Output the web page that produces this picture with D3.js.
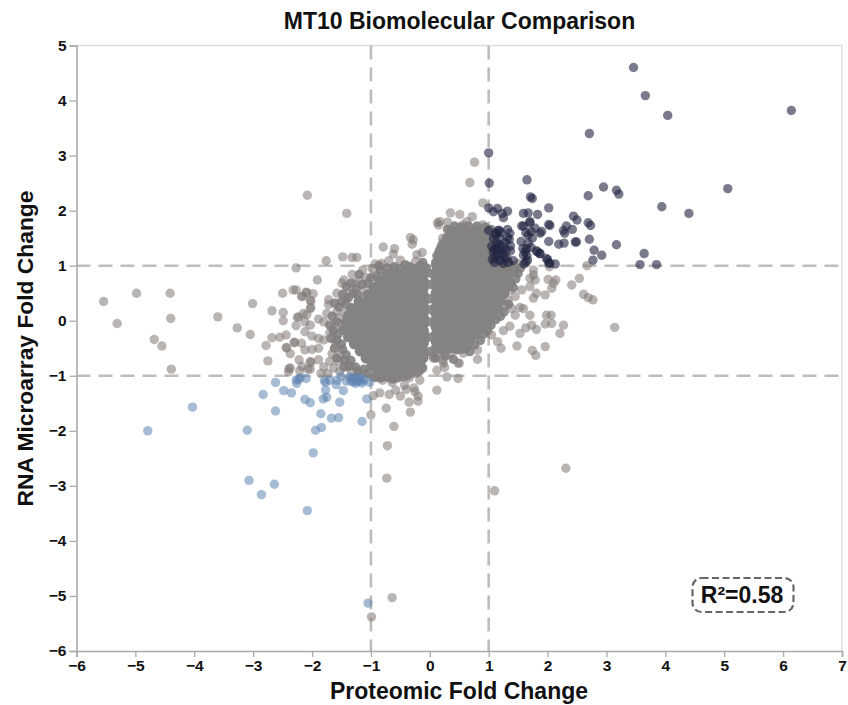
<!DOCTYPE html>
<html><head><meta charset="utf-8">
<script src="https://cdn.jsdelivr.net/npm/d3@7"></script>
<style>html,body{margin:0;padding:0;background:#fff}svg{display:block}text{font-family:"Liberation Sans",Arial,sans-serif;font-weight:700;fill:#111}</style>
</head><body><svg id="c" width="848" height="705"></svg>
<script>
const titleText = "MT10 Biomolecular Comparison";
const xTitle = "Proteomic Fold Change";
const yTitle = "RNA Microarray Fold Change";
const noteText = "R²=0.58";
const xDomain = [-6, 7];
const yDomain = [-6, 5];
const xTicks = [-6,-5,-4,-3,-2,-1,0,1,2,3,4,5,6,7];
const yTicks = [-6,-5,-4,-3,-2,-1,0,1,2,3,4,5];
const cutoffs = [-1, 1];

const upBoth = [[3.46,4.6],[3.66,4.09],[4.04,3.73],[6.14,3.82],[2.71,3.4],[1,3.05],[1.01,2.5],[1.65,2.56],[1.71,2.25],[1.74,2.22],[2.95,2.43],[3.17,2.37],[3.21,2.3],[2.69,2.27],[5.06,2.4],[3.94,2.07],[4.4,1.95],[1,2.05],[1.08,1.98],[1.15,2.04],[1.23,1.95],[1.32,1.99],[1.25,1.87],[1.59,1.95],[1.67,1.96],[1.83,1.93],[2.02,2.05],[1.7,1.8],[1.59,1.72],[2.02,1.75],[2.04,1.73],[2.44,1.9],[2.5,1.83],[2.69,1.78],[2.73,1.73],[2.32,1.72],[2.42,1.66],[2.27,1.64],[2.29,1.59],[2.71,1.48],[2.47,1.43],[2.49,1.43],[2.02,1.44],[2.19,1.39],[2.28,1.41],[3.17,1.38],[2.79,1.28],[2.92,1.19],[3.64,1.22],[2.77,1.1],[3.57,1.02],[3.85,1.02],[2.13,1.03],[2.02,1.05],[1.98,1.13],[1.87,1.22],[1.81,1.27],[1,1.64],[1.12,1.59],[1.18,1.64],[1.32,1.66],[1.36,1.59],[1.14,1.41],[1.19,1.38],[1.08,1.25],[1.22,1.28],[1.37,1.27],[1.11,1.16],[1.19,1.09],[1.28,1.13],[1.42,1.09],[1.32,1.51],[1.35,1.48],[1.19,1.5],[1.62,1.25],[1.59,1.19],[1.63,1.07],[1.66,1.1],[1.67,1.41],[1.67,1.56],[1.63,1.6],[1.56,1.72],[1.7,1.78],[1.79,1.68],[1.87,1.59],[1.83,1.25],[1.87,1.22],[2,1.11],[2.04,1.04],[1.55,1.44],[1.13,1.56],[1.05,1.35],[1.25,1.19],[1.3,1.28],[1.16,1.64],[1.64,1.31],[1.1,1.06],[1.16,1.2],[1.25,1.04],[1.21,1.6],[1.6,1.03],[1.9,1.62],[1.72,1.62],[1.14,1.32],[1.28,1.42],[1.06,1.12],[1.33,1.06],[1.1,1.3],[1.25,1.35],[1.08,1.5],[1.37,1.36],[1.65,1.18],[1.58,1.31],[1.74,1.5],[1.72,1.33]];

const downBoth = [[-4.79,-2],[-4.03,-1.57],[-3.1,-1.99],[-2.62,-1.12],[-2.83,-1.34],[-2.48,-1.27],[-2.35,-1.31],[-2.62,-1.64],[-3.07,-2.9],[-2.64,-2.97],[-2.86,-3.16],[-2.08,-3.45],[-1.98,-2.4],[-1.94,-1.99],[-1.84,-1.94],[-1.67,-1.77],[-1.55,-1.76],[-1.15,-1.83],[-1.85,-1.69],[-2.12,-1.43],[-2.03,-1.49],[-1.81,-1.42],[-1.75,-1.39],[-1.53,-1.48],[-1.07,-1.42],[-1.47,-1.27],[-1.77,-1.26],[-1.77,-1.12],[-1.79,-1.09],[-1.59,-1.16],[-1.58,-1.08],[-2.26,-1.14],[-2.27,-1.08],[-2.2,-1.04],[-2.1,-1.05],[-1.51,-1.01],[-1.36,-1.02],[-1.3,-1.11],[-1.24,-1.1],[-1.18,-1.1],[-1.15,-1.13],[-1.42,-1.1],[-1.02,-1.12],[-1.33,-1.05],[-1.28,-1.04],[-1.22,-1.03],[-1.16,-1.05],[-1.34,-1.1],[-1.26,-1.14],[-1.12,-1.08],[-1.05,-5.13],[-2.23,-1.06],[-1.7,-1.08]];

const greyOuter = [[-2.08,2.28],[-1.41,1.95],[-5.54,.35],[-4.98,.5],[-4.41,.5],[-5.31,-.05],[-4.4,.04],[-4.68,-.34],[-4.55,-.46],[-4.39,-.88],[-3.6,.07],[-3.01,.31],[-3.27,-.13],[-3.05,-.25],[-2.68,.18],[-2.5,.5],[-2.49,.15],[-2.49,0],[-2.32,.56],[-2.27,.56],[-2.78,-.45],[-2.68,-.31],[-2.55,-.3],[-2.44,-.26],[-2.75,-.73],[-2.44,-.49],[-2.37,-.6],[-2.3,-.4],[-2.22,-.71],[-2.39,-.87],[-2.4,-.93],[-2.21,-.91],[-2.07,-.88],[-2.02,-.76],[-2.27,-.09],[-2.12,-.02],[-2.25,.06],[-2.15,.13],[-2.03,.22],[-2.02,.36],[-2.16,.44],[-2.1,.52],[-1.98,.49],[-1.91,.74],[-2.27,.96],[-1.76,1.09],[-1.48,1.16],[-1.32,1.15],[-1.24,1.15],[-.79,1.34],[-.6,1.31],[-.62,1.21],[-.93,1.03],[-.33,1.51],[-.28,1.47],[-.3,1.39],[-.13,1.24],[-.22,1.2],[.13,1.78],
[-1,-1.71],[-.74,-1.59],[-.61,-1.92],[-.72,-2.27],[-.73,-2.86],[-.64,-5.03],[-.99,-5.38],[-.33,-1.66],[-.35,-1.48],[-.2,-1.46],[.12,-1.26],[-.96,-1.36],[-.85,-1.31],[-.69,-1.34],[-.5,-1.37],[-.43,-1.17],[-.58,-1.26],[-.25,-1.29],[-.2,-1.37],[-.17,-1.08],[-.4,-1.25],[-.27,-1.22],[1.1,-3.09],[2.31,-2.68],[3.14,-.12],
[2.54,.77],[2.41,.65],[2.27,-.08],[2.21,-.23],[2.61,.48],[2.69,.42],[2.77,.38],[1.96,-.47],[1.74,-.54],[1.8,-.63],[1.48,-.46],[1.21,-.5],[1.98,.1],[2.06,.1],[1.96,-.06],[2.07,-.05],[1.81,-.16],[2.14,.74],[2.1,.68],[2.01,.75],[2.07,.59],[1.76,.92],[1.76,.83],[1.7,.77],[1.79,.74],[1.7,.62],[1.81,.5],[1.96,.47],[1.76,.41],[1.53,.24],[1.59,.22],[1.7,.1],[1.36,-.1],[1.53,-.23],[1.63,-.13],[1.73,-.08],[1.25,-.18],[1.05,-.26],[1.15,-.38],[.81,-.53],[.81,-.7],[.5,-.77],[.57,-.59],[.06,-.68],[.17,-.59],[.23,-.77],[.76,2.88],[.68,2.51],[.9,2.14],[.35,1.96],[.51,1.93],[.72,1.89],[.3,1.79],[.15,1.74],[.17,1.8],[.63,1.8],[.56,1.74],[.9,1.74],[.22,1.5],[.37,1.57],[.58,1.59],[.69,1.6],[.22,1.42],[.17,1.3],[1.45,.1],[1.45,.44],[1.56,.56],[1.5,1.04],[2.03,.98],[2.67,1],[1.33,.38],[1.28,.26],[1.39,.22],[1.36,.56],[.29,-1.02],[.22,-.71],[.25,-.85],[.05,-.65],[.48,-.77],[.48,-1.05],[.12,-.9],[.35,-.62],
[-2.18,.44],[-2.09,.51],[-2.03,.37],[-2.02,.24],[-2.09,.11],[-2.23,.07],[-2.03,-.08],[-1.89,.03],[-1.8,-.02],[-2.12,-.2],[-2,-.28],[-1.89,-.32],[-1.8,-.35],[-1.7,-.22],[-1.6,-.1],[-1.55,.05],[-1.72,.38],[-1.72,.29],[-1.58,.5],[-1.46,.74],[-1.49,.68],[-1.32,.84],[-1.28,.68],[-1.12,.55],[-1.75,.13],[-1.58,.17],[-1.44,.13],[-2.12,-.53],[-2,-.52],[-2.18,-.41],[-2.3,-.39],[-2.43,-.49],[-1.89,-.5],[-1.89,-.71],[-2.03,-.74],[-2.17,-.83],[-2.37,-.86],[-2.03,-.88],[-1.85,-.96],[-1.73,-.96],[-1.63,-.86],[-1.8,-.84],[-1.53,-.92],[-1.66,-.6],[-1.6,-.42],[-1.52,-.6],[-1.7,-.74],[-1.55,-.74],[-1.43,.42],[-1.36,.52],[-1.2,.73],[-1.08,.78],[-1.14,.92],[-.98,.95],[-.82,1.04],[-.7,1.09],[-.5,1.1],[-.24,1.08],[-1.4,-.84],[-1.33,-.93],[-1.18,-.97],[-.97,-1.02],[-.8,-1.08],[-.64,-1.12],[-.35,-1.04],[-.25,-.96]];

const greyEdge = [[-1.62,.32],[-1.54,.25],[-1.66,.08],[-1.58,-.02],[-1.7,-.08],[-1.64,-.18],[-1.56,-.25],[-1.68,-.32],[-1.58,-.35],[-1.5,-.42],[-1.62,-.5],[-1.48,-.52],[-1.42,-.62],[-1.58,-.68],[-1.45,-.72],[-1.34,-.72],[-1.36,-.82],[-1.26,-.84],[-1.46,-.84],[-1.22,-.92],[-1.12,-.88],[-1.05,-.96],[-.92,-1.03],[-.72,-1.03],[-.55,-1.04],[-.46,-1.02],[-.18,-.92],[-.12,-.86],[-.84,-1.04],[-.63,-1.06],[-.38,-1],[-.3,-.93],
[-1.5,.35],[-1.42,.3],[-1.48,.48],[-1.38,.42],[-1.3,.5],[-1.22,.46],[-1.25,.58],[-1.15,.66],[-1.05,.68],[-1,.78],[-.9,.82],[-.84,.92],[-.72,.96],[-.6,.98],[-.5,.95],[-1.42,.62],[-1.34,.68],[-1.2,.84],[-.86,1],[-.42,1.02],[-.12,1.06],[-.16,1],[-.06,.96],
[.02,.86],[.02,.66],[.01,.4],[.0,.2],[.02,-.02],[-.01,-.3],[.0,-.56],[.1,-.68],[.26,-.64],[.4,-.7],[.62,-.48],[.68,-.56],[.76,-.44],[.86,-.36],[.92,-.24],[.98,-.18],[1.04,-.08],[1.12,.02],[1.2,.08],[1.26,.16],[1.34,.3],[1.42,.6],[1.38,.68],[1.46,.76],[1.5,.86],[1.44,.92],[1.54,.96],
[.1,1.06],[.12,1.18],[.16,1.26],[.2,1.36],[.18,1.12],[.3,1.66],[.42,1.72],[.52,1.7],[.66,1.72],[.8,1.72],[.94,1.7],[1.04,1.66]];

const greyCore = [
[-.35,.97],[-.22,.94],[-.12,.97],
[-.72,.84],[-.6,.87],[-.47,.84],[-.34,.86],[-.21,.83],[-.11,.85],
[-.85,.73],[-.74,.7],[-.61,.74],[-.49,.71],[-.36,.73],[-.24,.7],[-.11,.72],
[-.95,.6],[-.83,.62],[-.7,.58],[-.58,.61],[-.45,.59],[-.33,.6],[-.2,.58],[-.11,.6],
[-1.05,.47],[-.93,.49],[-.8,.46],[-.68,.48],[-.55,.46],[-.42,.48],[-.3,.45],[-.17,.47],[-.11,.46],
[-1.2,.35],[-1.08,.33],[-.96,.36],[-.83,.34],[-.71,.35],[-.58,.33],[-.46,.36],[-.33,.33],[-.21,.35],[-.11,.33],
[-1.33,.22],[-1.21,.2],[-1.09,.23],[-.97,.21],[-.84,.22],[-.72,.2],[-.59,.23],[-.47,.2],[-.34,.22],[-.22,.2],[-.11,.22],
[-1.38,.09],[-1.26,.11],[-1.13,.08],[-1.01,.1],[-.88,.08],[-.76,.11],[-.63,.09],[-.51,.07],[-.38,.1],[-.26,.08],[-.13,.1],[-.11,.06],
[-1.42,-.03],[-1.3,-.05],[-1.17,-.02],[-1.05,-.04],[-.92,-.03],[-.8,-.05],[-.67,-.02],[-.55,-.05],[-.42,-.03],[-.3,-.05],[-.17,-.02],[-.11,-.05],
[-1.46,-.16],[-1.34,-.18],[-1.21,-.15],[-1.09,-.17],[-.96,-.16],[-.84,-.18],[-.71,-.15],[-.59,-.18],[-.46,-.16],[-.34,-.17],[-.21,-.15],[-.11,-.18],
[-1.38,-.29],[-1.25,-.31],[-1.13,-.28],[-1,-.3],[-.88,-.29],[-.75,-.31],[-.63,-.28],[-.5,-.3],[-.38,-.29],[-.25,-.31],[-.13,-.28],[-.11,-.31],
[-1.28,-.42],[-1.16,-.44],[-1.04,-.41],[-.91,-.43],[-.79,-.42],[-.66,-.44],[-.54,-.41],[-.41,-.43],[-.29,-.42],[-.17,-.44],[-.11,-.41],
[-1.18,-.55],[-1.06,-.57],[-.94,-.54],[-.81,-.56],[-.69,-.55],[-.56,-.57],[-.44,-.54],[-.31,-.56],[-.19,-.55],[-.11,-.57],
[-1.08,-.68],[-.96,-.7],[-.84,-.67],[-.71,-.69],[-.59,-.68],[-.46,-.7],[-.34,-.67],[-.21,-.69],[-.12,-.68],
[-.98,-.81],[-.85,-.83],[-.73,-.8],[-.6,-.82],[-.48,-.81],[-.35,-.83],[-.23,-.8],[-.16,-.82],
[-.88,-.93],[-.74,-.92],[-.62,-.95],[-.49,-.93],[-.38,-.92],
[.38,1.62],[.5,1.64],[.63,1.61],[.76,1.64],[.88,1.62],[.97,1.6],
[.3,1.5],[.43,1.52],[.56,1.49],[.68,1.51],[.81,1.49],[.93,1.51],[1.03,1.48],
[.26,1.38],[.39,1.36],[.51,1.39],[.64,1.37],[.76,1.39],[.89,1.36],[1.01,1.38],[1.12,1.36],
[.21,1.25],[.34,1.27],[.46,1.24],[.59,1.26],[.71,1.25],[.84,1.27],[.96,1.24],[1.09,1.26],[1.2,1.24],
[.16,1.12],[.29,1.14],[.41,1.11],[.54,1.13],[.66,1.12],[.79,1.14],[.91,1.11],[1.04,1.13],[1.16,1.12],[1.3,1.12],
[.12,1],[.24,.98],[.37,1.01],[.49,.99],[.62,1],[.74,.98],[.87,1.01],[.99,.99],[1.12,1],[1.24,.98],[1.36,1],
[.11,.87],[.21,.89],[.34,.86],[.46,.88],[.59,.87],[.71,.89],[.84,.86],[.96,.88],[1.09,.87],[1.21,.89],[1.33,.86],
[.11,.75],[.2,.73],[.33,.76],[.45,.74],[.58,.75],[.7,.73],[.83,.76],[.95,.74],[1.08,.75],[1.2,.73],[1.31,.76],
[.11,.62],[.2,.64],[.33,.61],[.45,.63],[.58,.62],[.7,.64],[.83,.61],[.95,.63],[1.08,.62],[1.2,.64],[1.29,.61],
[.11,.5],[.21,.48],[.34,.51],[.46,.49],[.59,.5],[.71,.48],[.84,.51],[.96,.49],[1.09,.5],[1.2,.48],[1.26,.5],
[.11,.37],[.2,.39],[.33,.36],[.45,.38],[.58,.37],[.7,.39],[.83,.36],[.95,.38],[1.08,.37],[1.2,.36],
[.11,.25],[.21,.23],[.34,.26],[.46,.24],[.59,.25],[.71,.23],[.84,.26],[.96,.24],[1.09,.25],[1.15,.22],
[.11,.12],[.2,.14],[.33,.11],[.45,.13],[.58,.12],[.7,.14],[.83,.11],[.95,.13],[1.06,.11],
[.11,0],[.21,-.02],[.34,.01],[.46,-.01],[.59,0],[.71,-.02],[.84,.01],[.98,-.01],
[.11,-.12],[.2,-.1],[.33,-.13],[.45,-.11],[.58,-.12],[.7,-.1],[.82,-.13],[.89,-.11],
[.11,-.25],[.21,-.27],[.34,-.24],[.46,-.26],[.59,-.25],[.71,-.27],[.79,-.24],
[.11,-.38],[.2,-.36],[.33,-.39],[.45,-.37],[.57,-.38],[.67,-.36],
[.11,-.5],[.22,-.52],[.34,-.49],[.46,-.51],[.55,-.5]];

const svg = d3.select("#c");
const x = d3.scaleLinear().domain(xDomain).range([76.5, 842]);
const y = d3.scaleLinear().domain(yDomain).range([651, 45.5]);

// frame
svg.append("line").attr("x1",76.5).attr("x2",842).attr("y1",45.5).attr("y2",45.5).attr("stroke","#ddd").attr("stroke-width",1.5);
svg.append("line").attr("x1",842).attr("x2",842).attr("y1",45.5).attr("y2",651).attr("stroke","#ddd").attr("stroke-width",1.5);

// cutoff lines
const dash = "14 8";
svg.selectAll(".vc").data(cutoffs).join("line").attr("class","vc")
  .attr("x1",d=>x(d)).attr("x2",d=>x(d)).attr("y1",y(5)).attr("y2",y(-6))
  .attr("stroke","#bdbdbd").attr("stroke-width",2.6).attr("stroke-dasharray",dash);
svg.selectAll(".hc").data(cutoffs).join("line").attr("class","hc")
  .attr("x1",x(-6)).attr("x2",x(7)).attr("y1",d=>y(d)).attr("y2",d=>y(d))
  .attr("stroke","#bdbdbd").attr("stroke-width",2.6).attr("stroke-dasharray",dash);

function dots(data, fill, op, r){
  svg.append("g").selectAll("circle").data(data).join("circle")
    .attr("cx",d=>x(d[0])).attr("cy",d=>y(d[1])).attr("r",r)
    .attr("fill",fill).attr("fill-opacity",op);
}
dots(greyOuter, "#7f7875", 0.55, 4.7);
dots(greyEdge, "#7f7d7b", 0.88, 4.7);
dots(greyCore, "#848382", 1, 5.6);
dots(downBoth, "#5e84b0", 0.55, 4.7);
dots(upBoth, "#1f2340", 0.6, 4.7);

// axes
const xa = svg.append("g").attr("transform","translate(0,651)").call(d3.axisBottom(x).tickValues(xTicks).tickSize(6).tickPadding(3));
const ya = svg.append("g").attr("transform","translate(76.5,0)").call(d3.axisLeft(y).tickValues(yTicks).tickSize(7).tickPadding(3));
[xa,ya].forEach(a=>{
  a.selectAll("path").attr("stroke","#aaa").attr("stroke-width",1.6);
  a.selectAll("line").attr("stroke","#aaa").attr("stroke-width",1.3);
  a.selectAll("text").style("font-size","15.5px").attr("fill","#111")
    .style("font-family",'"Liberation Sans",Arial,sans-serif').style("font-weight","700");
});

svg.append("text").attr("x",459.5).attr("y",29).attr("text-anchor","middle").style("font-size","23px").text(titleText);
svg.append("text").attr("x",459).attr("y",699).attr("text-anchor","middle").style("font-size","23px").text(xTitle);
svg.append("text").attr("transform","translate(33,348.5) rotate(-90)").attr("text-anchor","middle").style("font-size","22.8px").text(yTitle);

svg.append("rect").attr("x",692.5).attr("y",578).attr("width",101).attr("height",34).attr("rx",9)
  .attr("fill","#fff").attr("stroke","#666").attr("stroke-width",2.2).attr("stroke-dasharray","7 3.5");
svg.append("text").attr("x",742).attr("y",603).attr("text-anchor","middle").style("font-size","23px").text(noteText);
</script></body></html>
